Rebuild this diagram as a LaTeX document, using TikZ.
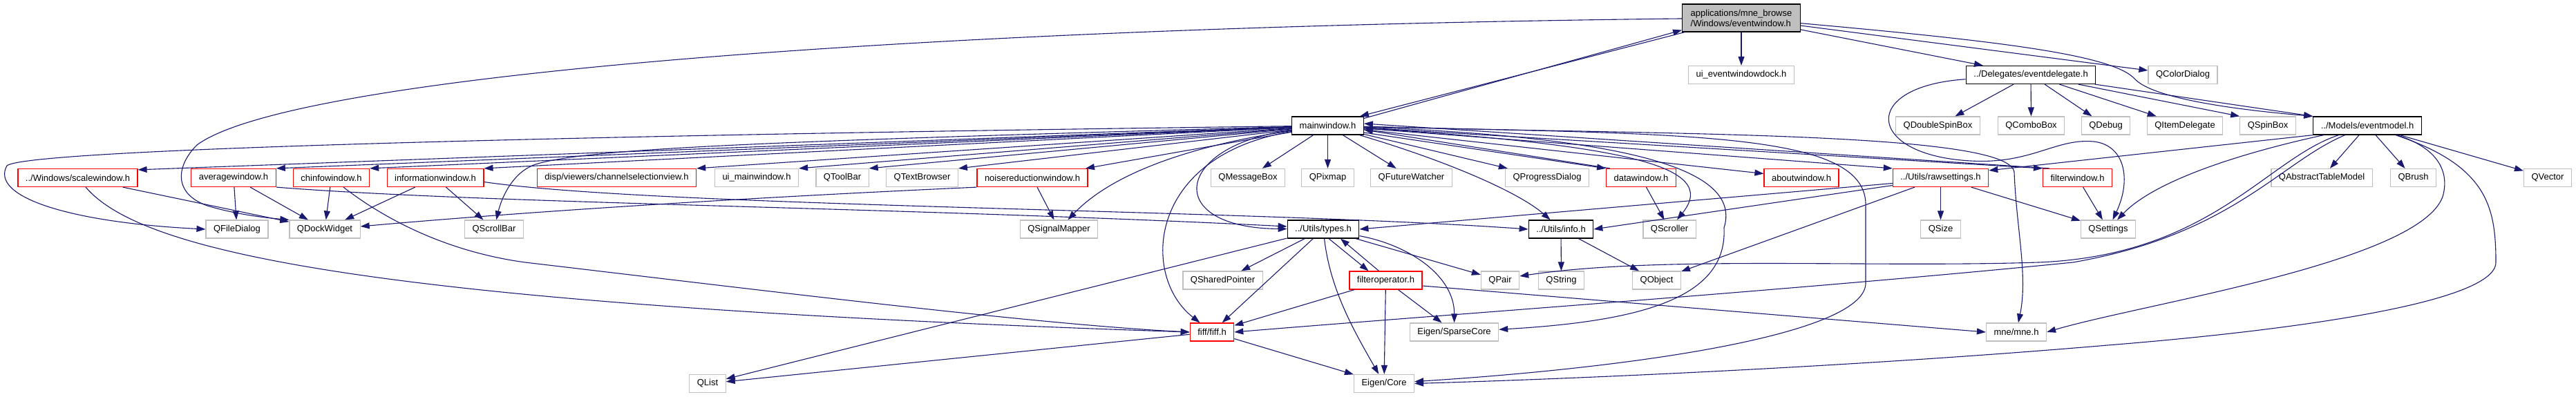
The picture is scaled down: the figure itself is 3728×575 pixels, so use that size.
\documentclass[tikz,border=0pt]{standalone}
\usepackage{fontspec}
\setmainfont{Liberation Sans}
\usepackage{tikz}
\usetikzlibrary{arrows.meta}
\definecolor{incEdge}{RGB}{25,25,112}
\definecolor{incGray}{RGB}{191,191,191}
\definecolor{incRed}{RGB}{255,0,0}
\begin{document}
\begin{tikzpicture}[
    x=1pt, y=-1pt,
    box/.style={rectangle, draw=#1, fill=white, line width=1.2pt, minimum height=26pt, inner xsep=11pt, inner ysep=0pt, font=\fontsize{13pt}{15pt}\selectfont},
    arrow/.style={-{Triangle[length=13pt,width=9pt]}, line width=1.1pt, draw=incEdge}
]
\useasboundingbox (0,0) rectangle (3728,575);
\node[box=black, fill=incGray, align=left, minimum height=40pt, inner xsep=12pt] (evwin) at (2520,26) {applications/mne\_browse\\/Windows/eventwindow.h};
\node[box=incGray] (uidock) at (2520,108.5) {ui\_eventwindowdock.h};
\node[box=black] (evdel) at (2939,108.5) {../Delegates/eventdelegate.h};
\node[box=incGray] (colordlg) at (3159,108.5) {QColorDialog};
\node[box=black] (mainwin) at (1921.5,182) {mainwindow.h};
\node[box=incGray] (dspin) at (2804.5,182) {QDoubleSpinBox};
\node[box=incGray] (combo) at (2939.5,182) {QComboBox};
\node[box=incGray] (debug) at (3047.5,182) {QDebug};
\node[box=incGray] (itemdel) at (3162,182) {QItemDelegate};
\node[box=incGray] (spin) at (3282,182) {QSpinBox};
\node[box=black] (evmodel) at (3426,182) {../Models/eventmodel.h};
\node[box=incRed] (scalew) at (112.5,257.5) {../Windows/scalewindow.h};
\node[box=incRed] (avgw) at (338,257.5) {averagewindow.h};
\node[box=incRed] (chinfow) at (479.5,257.5) {chinfowindow.h};
\node[box=incRed] (infow) at (630,257.5) {informationwindow.h};
\node[box=incRed] (chsel) at (892.5,257.5) {disp/viewers/channelselectionview.h};
\node[box=incGray] (uimain) at (1095,257.5) {ui\_mainwindow.h};
\node[box=incGray] (toolbar) at (1219,257.5) {QToolBar};
\node[box=incGray] (textbr) at (1334.5,257.5) {QTextBrowser};
\node[box=incRed] (noisew) at (1494,257.5) {noisereductionwindow.h};
\node[box=incGray] (msgbox) at (1806,257.5) {QMessageBox};
\node[box=incGray] (pixmap) at (1921.5,257.5) {QPixmap};
\node[box=incGray] (futwatch) at (2042.5,257.5) {QFutureWatcher};
\node[box=incGray] (progdlg) at (2239,257.5) {QProgressDialog};
\node[box=incRed] (dataw) at (2375,257.5) {datawindow.h};
\node[box=incRed] (aboutw) at (2607,257.5) {aboutwindow.h};
\node[box=incRed] (rawset) at (2808.5,257.5) {../Utils/rawsettings.h};
\node[box=incRed] (filterw) at (3006.5,257.5) {filterwindow.h};
\node[box=incGray] (abstbl) at (3360,257.5) {QAbstractTableModel};
\node[box=incGray] (brush) at (3492.5,257.5) {QBrush};
\node[box=incGray] (vector) at (3687,257.5) {QVector};
\node[box=incGray] (filedlg) at (343,332) {QFileDialog};
\node[box=incGray] (dockw) at (470,332) {QDockWidget};
\node[box=incGray] (scrollbar) at (715,332) {QScrollBar};
\node[box=incGray] (sigmap) at (1532.5,332) {QSignalMapper};
\node[box=black] (types) at (1915,332) {../Utils/types.h};
\node[box=black] (info) at (2259,332) {../Utils/info.h};
\node[box=incGray] (scroller) at (2416,332) {QScroller};
\node[box=incGray] (qsize) at (2808.5,332) {QSize};
\node[box=incGray] (settings) at (3051,332) {QSettings};
\node[box=incGray] (sharedptr) at (1769.5,406) {QSharedPointer};
\node[box=incRed] (filterop) at (2005.5,406) {filteroperator.h};
\node[box=incGray] (qpair) at (2171,406) {QPair};
\node[box=incGray] (qstring) at (2259.5,406) {QString};
\node[box=incGray] (qobject) at (2397.5,406) {QObject};
\node[box=incRed] (fiff) at (1754,481) {fiff/fiff.h};
\node[box=incGray] (sparse) at (2104.5,481) {Eigen/SparseCore};
\node[box=incGray] (mne) at (2918,481) {mne/mne.h};
\node[box=incGray] (qlist) at (1024,555.5) {QList};
\node[box=incGray] (core) at (2003,555.5) {Eigen/Core};
\draw[arrow] ([xshift=4pt]evwin.south west) -- ([xshift=-6pt]mainwin.north east);
\draw[arrow] ([yshift=-3pt]mainwin.north east) -- ([yshift=3pt]evwin.south west);
\draw[arrow] (evwin) -- (uidock);
\draw[arrow] (evwin) -- (evdel);
\draw[arrow] (evwin) -- (colordlg);
\draw[arrow] (evwin) .. controls (2900,60) and (3060,80) .. (3090,115) .. controls (3120,145) and (3250,160) .. (evmodel.north west);
\draw[arrow] (evwin) .. controls (1300,40) and (420,110) .. (285,210) .. controls (255,240) and (250,280) .. (300,298) .. controls (340,310) and (380,315) .. (dockw.north west);
\draw[arrow] (mainwin) -- ([yshift=-2pt]scalew.north east);
\draw[arrow] (mainwin) -- (avgw.north east);
\draw[arrow] (mainwin) -- (chinfow.north east);
\draw[arrow] (mainwin) -- (infow.north east);
\draw[arrow] (mainwin) -- (chsel.north east);
\draw[arrow] (mainwin) -- (uimain.north east);
\draw[arrow] (mainwin) -- (toolbar.north east);
\draw[arrow] (mainwin) -- (textbr.north east);
\draw[arrow] (mainwin) -- (noisew);
\draw[arrow] (mainwin) -- (msgbox);
\draw[arrow] (mainwin) -- (pixmap);
\draw[arrow] (mainwin) -- (futwatch);
\draw[arrow] (mainwin) -- (progdlg);
\draw[arrow] ([yshift=-10pt]mainwin.east) -- (dataw.north west);
\draw[arrow] ([xshift=6pt]dataw.north west) -- ([yshift=-6pt]mainwin.east);
\draw[arrow] (mainwin) -- (aboutw);
\draw[arrow] (mainwin) -- (rawset.north west);
\draw[arrow] ([yshift=-3pt]mainwin.east) -- (filterw.north west);
\draw[arrow] ([xshift=10pt]filterw.north west) -- ([yshift=3pt]mainwin.east);
\draw[arrow] (mainwin) .. controls (900,195) and (40,215) .. (10,240) .. controls (-15,285) and (100,322) .. (filedlg.west);
\draw[arrow] (mainwin) .. controls (1100,205) and (850,215) .. (775,238) .. controls (740,250) and (725,290) .. (scrollbar);
\draw[arrow] (mainwin) .. controls (1760,205) and (1620,240) .. (sigmap);
\draw[arrow] (mainwin) .. controls (1700,210) and (1680,330) .. (types);
\draw[arrow] (mainwin) .. controls (1660,225) and (1650,400) .. (fiff);
\draw[arrow] (mainwin) .. controls (2100,235) and (2200,280) .. (info);
\draw[arrow] (mainwin) .. controls (2350,210) and (2490,240) .. (scroller);
\draw[arrow] (mainwin) .. controls (2380,200) and (2520,250) .. (2495,330) .. controls (2500,430) and (2380,465) .. (sparse);
\draw[arrow] (mainwin) .. controls (2450,195) and (2705,190) .. (2700,300) -- (2700,410) .. controls (2700,480) and (2400,530) .. (core);
\draw[arrow] (mainwin) .. controls (2400,195) and (2912,190) .. (2915,250) .. controls (2918,330) and (2935,400) .. (mne);
\draw[arrow] (scalew) -- (dockw);
\draw[arrow] (scalew) .. controls (200,360) and (500,440) .. (fiff.west);
\draw[arrow] (avgw) -- (filedlg);
\draw[arrow] (avgw) -- (dockw);
\draw[arrow] (avgw.south east) .. controls (700,295) and (1300,300) .. ([yshift=4pt]types.west);
\draw[arrow] (chinfow) -- (dockw);
\draw[arrow] (chinfow) .. controls (560,320) and (650,365) .. (760,380) .. controls (1100,420) and (1500,470) .. (fiff.west);
\draw[arrow] (infow) -- (dockw);
\draw[arrow] (infow) -- (scrollbar);
\draw[arrow] ([yshift=-6pt]infow.east) .. controls (950,300) and (1800,303) .. (info.west);
\draw[arrow] (noisew.south west) .. controls (1000,290) and (700,312) .. ([yshift=4pt]dockw.east);
\draw[arrow] (noisew) -- (sigmap);
\draw[arrow] (dataw) -- (scroller);
\draw[arrow] ([yshift=-8pt]rawset.west) -- (types.east);
\draw[arrow] ([yshift=-11pt]rawset.west) -- (info.east);
\draw[arrow] (rawset) -- (qobject);
\draw[arrow] (rawset) -- (qsize);
\draw[arrow] (rawset) -- (settings);
\draw[arrow] (filterw) -- (settings);
\draw[arrow] (evdel) -- (dspin);
\draw[arrow] (evdel) -- (combo);
\draw[arrow] (evdel) -- (debug);
\draw[arrow] (evdel) -- (itemdel);
\draw[arrow] (evdel) -- (spin.north west);
\draw[arrow] (evdel) -- (evmodel.north west);
\draw[arrow] (evdel) .. controls (2690,125) and (2700,225) .. (2852,233) .. controls (2940,238) and (2975,200) .. (3030,205) .. controls (3075,210) and (3085,260) .. (settings);
\draw[arrow] (evmodel.south west) -- ([yshift=-3pt]rawset.north east);
\draw[arrow] (evmodel) .. controls (3250,220) and (3120,260) .. (settings);
\draw[arrow] (evmodel) .. controls (3280,230) and (3200,370) .. (2950,380) .. controls (2700,388) and (2400,370) .. ([yshift=6pt]qpair.east);
\draw[arrow] (evmodel) .. controls (3300,235) and (3230,340) .. (3000,380) .. controls (2600,420) and (2100,455) .. (fiff.east);
\draw[arrow] (evmodel) .. controls (3530,215) and (3545,250) .. (3535,285) .. controls (3500,380) and (3100,440) .. (mne.east);
\draw[arrow] (evmodel) .. controls (3600,240) and (3612,300) .. (3612,380) .. controls (3612,440) and (3300,480) .. (3050,500) .. controls (2700,530) and (2300,548) .. (core.east);
\draw[arrow] (evmodel) -- (abstbl);
\draw[arrow] (evmodel) -- (brush);
\draw[arrow] (evmodel) -- (vector);
\draw[arrow] (types) -- (qlist);
\draw[arrow] (types) -- (sharedptr);
\draw[arrow] (types) -- (fiff);
\draw[arrow] (types) .. controls (1925,420) and (1960,480) .. (core);
\draw[arrow] ([xshift=8pt]types.south) -- ([xshift=-25pt]filterop.north);
\draw[arrow] ([xshift=-10pt]filterop.north) -- ([xshift=25pt]types.south);
\draw[arrow] (types) -- (qpair);
\draw[arrow] (types) .. controls (2040,355) and (2105,400) .. (sparse);
\draw[arrow] (info) -- (qstring);
\draw[arrow] (info) -- (qobject);
\draw[arrow] (filterop) -- (fiff);
\draw[arrow] (filterop) -- (core);
\draw[arrow] (filterop) -- (sparse);
\draw[arrow] ([yshift=-8pt]filterop.east) -- (mne.west);
\draw[arrow] (fiff) -- (qlist);
\draw[arrow] (fiff) -- (core);
\end{tikzpicture}
\end{document}
